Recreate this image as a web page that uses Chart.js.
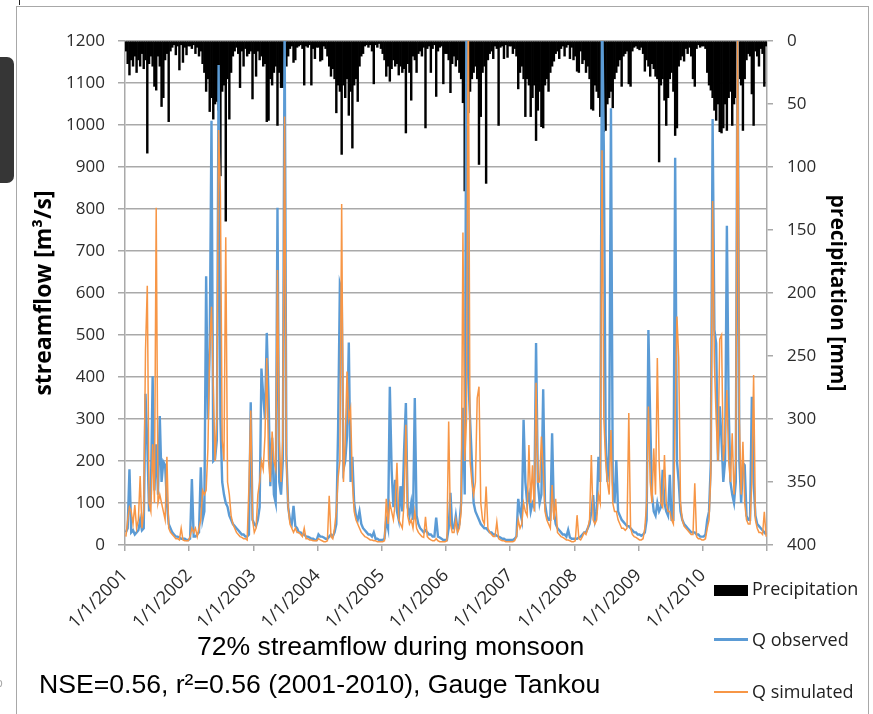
<!DOCTYPE html>
<html><head><meta charset="utf-8">
<script src="https://cdn.jsdelivr.net/npm/chart.js@4/dist/chart.umd.min.js"></script>
<style>
html,body{margin:0;padding:0;background:#fff;}
body{width:873px;height:714px;position:relative;overflow:hidden;font-family:'Open Sans',sans-serif;}
#c{position:absolute;left:0;top:0;}
.ln{position:absolute;background:#a8a8a8;}
.cap{position:absolute;font-family:'Liberation Sans',Arial,sans-serif;font-size:26.6px;line-height:26px;color:#000;white-space:nowrap;}
.lg{position:absolute;font-family:'Open Sans',sans-serif;font-size:18px;line-height:18px;color:#222;white-space:nowrap;}
</style>
</head><body>
<canvas id="c" width="873" height="714"></canvas>
<div class="ln" style="left:16px;top:6px;width:1px;height:708px;"></div>
<div class="ln" style="left:16px;top:6px;width:852px;height:1px;"></div>
<div class="ln" style="left:868px;top:6px;width:1px;height:708px;"></div>
<div style="position:absolute;left:19px;top:0;width:1px;height:5px;background:#222;"></div>
<div style="position:absolute;left:0;top:57px;width:14px;height:126px;background:#363636;border-radius:0 7px 7px 0;"></div>
<div style="position:absolute;left:-4px;top:676px;font:12px 'Liberation Sans',Arial;color:#aaa;">o</div>

<div class="cap" style="left:197px;top:633px;">72% streamflow during monsoon</div>
<div class="cap" style="left:39px;top:671px;">NSE=0.56, r²=0.56 (2001-2010), Gauge Tankou</div>

<div style="position:absolute;left:714px;top:585px;width:34px;height:11px;background:#000;"></div>
<div class="lg" style="left:752px;top:579px;">Precipitation</div>
<div style="position:absolute;left:714px;top:638px;width:34px;height:2.5px;background:#5B9BD5;"></div>
<div class="lg" style="left:752px;top:630px;">Q observed</div>
<div style="position:absolute;left:714px;top:691px;width:34px;height:1.5px;background:#F79646;"></div>
<div class="lg" style="left:752px;top:682px;">Q simulated</div>

<script>
// x-axis tick labels (one per year, 36 ten-day steps per year)
const yearLabels = ['1/1/2001','1/1/2002','1/1/2003','1/1/2004','1/1/2005','1/1/2006','1/1/2007','1/1/2008','1/1/2009','1/1/2010'];
const stepsPerYear = 36;

// Q observed [m3/s], ten-day steps, one line per year 2001..2010
const qObserved = [
 30,40,180,30,35,25,30,35,60,35,40,360,240,80,120,402,130,240,120,307,150,198,190,100,50,40,30,25,20,20,18,15,15,15,12,12,
 15,157,20,20,25,30,185,60,80,640,300,470,1010,200,205,250,1143,300,150,120,100,91,70,60,50,45,40,35,30,25,25,20,20,25,340,60,
 50,45,60,90,420,355,300,505,350,140,255,120,100,803,150,120,200,1250,215,90,60,50,93,45,40,30,30,25,25,20,20,18,15,15,12,12,
 25,20,20,18,15,15,20,25,20,30,50,276,622,605,180,200,260,482,150,210,100,70,60,80,50,40,35,30,25,25,20,30,15,15,12,12,
 12,15,60,40,377,180,90,155,80,60,140,80,226,338,90,70,100,60,350,70,50,40,35,30,35,30,25,25,20,20,65,20,18,15,12,12,
 12,40,124,40,40,70,35,50,100,327,120,1300,400,298,200,100,80,70,60,50,45,40,40,35,30,30,25,25,22,20,18,15,15,12,12,12,
 12,12,15,20,110,80,60,298,150,100,120,80,100,90,481,150,100,120,371,100,70,60,60,266,80,50,40,35,30,25,25,20,36,18,15,15,
 15,15,18,20,25,30,30,40,50,80,119,60,80,210,150,1300,943,262,150,215,1040,150,100,202,80,70,60,55,50,45,45,40,35,30,30,25,
 25,22,25,30,60,512,300,120,80,70,100,80,90,179,100,80,70,167,60,60,922,200,150,80,60,50,45,40,35,30,30,30,25,25,20,20,
 20,25,60,80,195,1014,512,480,200,330,250,150,200,760,330,150,120,100,150,1300,200,100,195,190,70,60,60,353,150,70,50,45,40,35,30,25
];

// Q simulated [m3/s]
const qSimulated = [
 20,60,90,80,50,95,40,60,164,40,80,465,617,100,80,240,100,803,100,120,100,80,60,210,40,30,25,20,15,15,12,40,12,10,10,10,
 20,40,30,40,20,40,60,130,120,130,230,470,567,380,200,300,988,838,250,200,733,150,120,70,50,40,30,25,20,18,15,15,12,140,320,60,
 30,40,120,150,200,180,260,445,200,150,270,200,180,655,250,150,250,1020,200,90,50,40,30,40,30,30,25,20,40,15,15,12,12,10,10,10,
 15,12,10,8,8,10,117,20,15,40,80,160,200,812,150,250,413,300,323,150,80,60,50,40,30,25,20,18,15,12,12,10,10,8,8,8,
 8,10,110,50,100,80,60,100,196,60,50,40,100,286,70,50,60,40,80,40,30,25,20,18,67,20,15,12,10,10,15,10,8,8,8,8,
 10,294,50,30,30,60,30,40,80,744,200,300,1300,200,150,120,150,350,377,100,60,50,139,40,30,25,20,20,55,15,12,10,10,8,8,8,
 8,8,10,20,60,40,50,100,80,70,238,100,190,80,386,150,150,258,180,80,60,50,40,143,60,110,30,25,20,18,15,12,12,10,8,8,
 10,71,15,12,20,30,25,40,60,214,60,50,60,120,100,940,300,200,150,120,274,100,80,80,60,50,40,40,35,40,314,40,25,20,18,15,
 12,12,15,40,100,330,150,100,230,120,445,200,100,90,214,100,80,80,60,50,300,544,445,100,60,45,40,35,30,25,25,147,20,15,15,12,
 12,15,40,60,170,819,433,300,200,490,500,200,250,369,200,150,266,120,200,1300,300,120,246,100,60,50,50,150,405,60,40,30,30,25,79,20
];

// Precipitation [mm], ten-day steps
const precipitation = [
 8,18,27,15,20,12,25,15,20,10,22,15,89,18,12,20,36,39,12,20,52,45,15,10,64,8,5,3,11,4,23,3,17,5,11,4,
 4,6,3,10,5,12,8,18,25,40,30,56,45,62,50,48,55,107,40,35,143,30,62,25,12,8,5,10,37,8,20,6,12,10,8,46,
 10,28,8,15,12,20,18,64,63,30,35,25,20,67,25,37,37,30,20,12,6,4,17,15,5,4,3,6,35,4,5,3,35,6,14,5,
 5,16,15,4,6,12,20,28,22,30,57,35,40,90,35,45,30,59,40,85,35,30,48,20,12,10,4,3,5,3,8,34,3,5,2,6,
 10,15,28,20,32,22,15,20,18,27,20,25,22,73,18,25,47,12,15,25,10,8,12,5,69,6,4,25,6,3,44,8,5,4,34,10,
 10,15,41,18,12,20,15,25,30,49,119,55,57,40,30,25,20,30,98,60,25,20,113,15,10,8,14,4,6,67,5,4,14,3,13,4,
 4,10,6,12,38,25,20,30,60,30,35,60,45,35,79,55,40,68,69,35,30,40,25,20,16,10,8,14,6,4,12,5,3,14,5,15,
 12,24,25,8,18,15,25,20,30,54,55,35,40,45,60,40,72,71,50,45,40,53,30,25,20,15,36,12,10,8,34,36,8,5,4,6,
 7,5,10,24,15,20,28,18,22,28,30,96,35,30,47,67,45,30,25,40,75,69,20,15,12,16,6,10,5,12,30,36,6,3,5,4,
 4,6,25,35,39,45,55,63,50,72,73,69,50,71,45,40,67,50,45,40,30,35,71,30,15,10,12,42,67,8,12,20,6,10,36,4
];

const toPoints = arr => arr.map((v, i) => ({x: i + 0.5, y: v}));
const gridCol = '#a9a9a9';
const tickFont = {family: 'Open Sans', size: 17};
const tickCol = '#2b2b2b';
const plain = v => String(v);

new Chart(document.getElementById('c').getContext('2d'), {
  type: 'line',
  data: {
    datasets: [
      {type: 'line', label: 'Q simulated', data: toPoints(qSimulated), borderColor: '#F79646',
       borderWidth: 1.5, pointRadius: 0, tension: 0, yAxisID: 'y', order: 0},
      {type: 'line', label: 'Q observed', data: toPoints(qObserved), borderColor: '#5B9BD5',
       borderWidth: 2.4, pointRadius: 0, tension: 0, yAxisID: 'y', order: 1},
      {type: 'bar', label: 'Precipitation', data: toPoints(precipitation), backgroundColor: '#000',
       borderWidth: 0, barPercentage: 1, categoryPercentage: 1, yAxisID: 'y2', order: 2}
    ]
  },
  options: {
    responsive: false, animation: false, devicePixelRatio: 1,
    layout: {padding: {top: 41, left: 0, right: 0, bottom: 0}},
    plugins: {legend: {display: false}, tooltip: {enabled: false}},
    scales: {
      x: {
        type: 'linear', min: 0, max: yearLabels.length * stepsPerYear, offset: false,
        afterBuildTicks: s => { s.ticks = yearLabels.concat(['']).map((_, i) => ({value: i * stepsPerYear})); },
        afterFit: s => { s.height = 169; },
        ticks: {autoSkip: false, maxRotation: 45, minRotation: 45, padding: 14,
                callback: v => yearLabels[Math.round(v / stepsPerYear)] || '',
                font: {family: 'Open Sans', size: 18}, color: tickCol},
        grid: {drawOnChartArea: false, drawTicks: true, tickLength: 6, color: gridCol, lineWidth: 1.5, offset: false},
        border: {display: true, color: gridCol, width: 1.5}
      },
      y: {
        position: 'left', min: 0, max: 1200,
        afterFit: s => { s.width = 125; },
        ticks: {stepSize: 100, padding: 13, font: tickFont, color: tickCol, callback: plain},
        grid: {color: gridCol, lineWidth: 1.5, tickLength: 7},
        border: {display: true, color: gridCol, width: 1.5},
        title: {display: true, text: 'streamflow [m³/s]', color: '#000',
                font: {family: 'Open Sans', size: 23, weight: 'bold'}, padding: {top: 31, bottom: 0}}
      },
      y2: {
        position: 'right', reverse: true, min: 0, max: 400,
        afterFit: s => { s.width = 106; },
        ticks: {stepSize: 50, padding: 14, font: tickFont, color: tickCol, callback: plain},
        grid: {drawOnChartArea: false, tickLength: 6, color: gridCol, lineWidth: 1.5},
        border: {display: true, color: gridCol, width: 1.5},
        title: {display: true, text: 'precipitation [mm]', color: '#000',
                font: {family: 'Open Sans', size: 21, weight: 'bold'}, padding: {top: 23, bottom: 0}}
      }
    }
  }
});
</script>
</body></html>
